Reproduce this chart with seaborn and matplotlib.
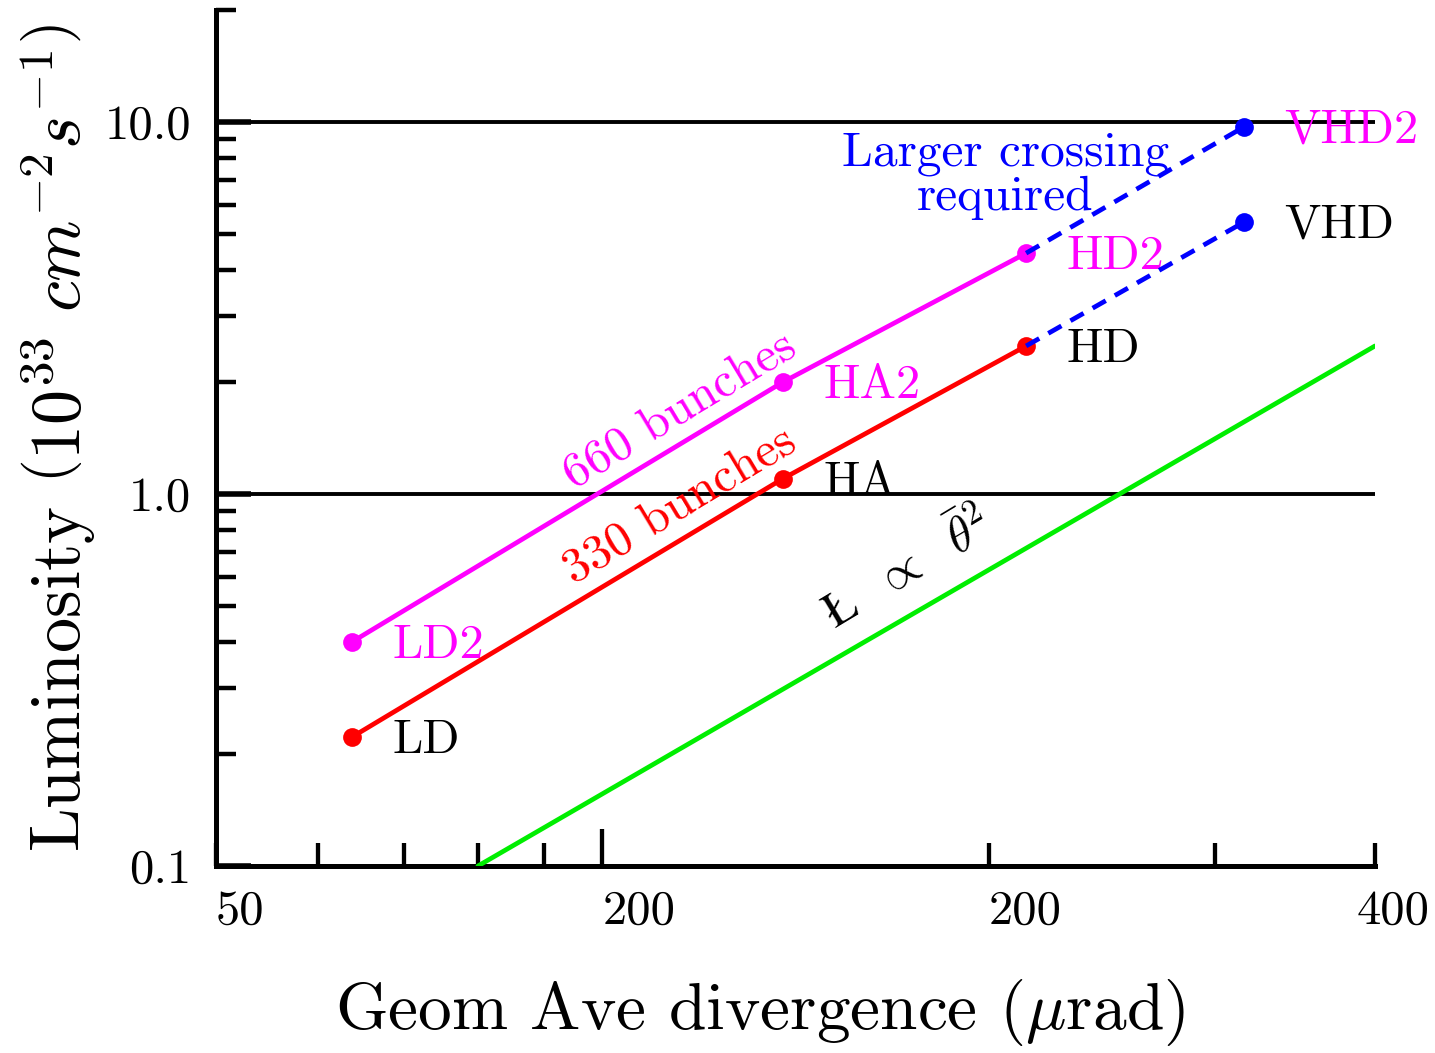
import matplotlib
matplotlib.use("Agg")
import matplotlib.pyplot as plt
import matplotlib.transforms as mtransforms
from matplotlib.ticker import NullFormatter, FixedLocator
import pandas as pd
import seaborn as sns

# ---------------- data ----------------
labels_660 = ["LD2", "HA2", "HD2"]
div_660 = [63.8, 138.3, 213.9]
lum_660 = [0.40, 2.0, 4.44]

labels_330 = ["LD", "HA", "HD"]
div_330 = [63.8, 138.3, 213.9]
lum_330 = [0.222, 1.10, 2.50]

labels_vhd = ["VHD2", "VHD"]
div_vhd = [316.2, 316.2]
lum_vhd = [9.70, 5.38]
vhd_label_colors = ["#FF00FF", "black"]

scaling_div = [80, 400]
scaling_lum = [0.1, 2.5]

x_ticks = [50, 100, 200, 400]
x_ticklabels = ["50", "200", "200", "400"]
x_minor = [60, 70, 80, 90, 300]
y_ticks = [0.1, 1.0, 10.0]
y_ticklabels = ["0.1", "1.0", "10.0"]

MAG = "#FF00FF"
RED = "#FF0000"
BLUE = "#0000FF"
GREEN = "#00EE00"

# ---------------- style ----------------
sns.set_theme(style="ticks")
plt.rcParams.update({
    "font.family": ["cmr10", "DejaVu Serif"],
    "mathtext.fontset": "cm",
    "axes.unicode_minus": False,
    "axes.formatter.use_mathtext": True,
    "axes.edgecolor": "black",
    "axes.labelcolor": "black",
    "xtick.color": "black",
    "ytick.color": "black",
    "text.color": "black",
})

fig = plt.figure(figsize=(14.35, 10.53), dpi=100)
ax = fig.add_axes([0.1505, 0.1776, 0.8077, 0.8129])
ax.set_xscale("log")
ax.set_yscale("log")

LW = 3.4
MS = 13.5

df660 = pd.DataFrame({"div": div_660, "lum": lum_660})
df330 = pd.DataFrame({"div": div_330, "lum": lum_330})
dfs = pd.DataFrame({"div": scaling_div, "lum": scaling_lum})

sns.lineplot(data=dfs, x="div", y="lum", ax=ax, color=GREEN, linewidth=LW, zorder=3)
sns.lineplot(data=df660, x="div", y="lum", ax=ax, color=MAG, linewidth=LW,
             marker="o", markersize=MS, markeredgewidth=0, zorder=4)
sns.lineplot(data=df330, x="div", y="lum", ax=ax, color=RED, linewidth=LW,
             marker="o", markersize=MS, markeredgewidth=0, zorder=4)

# dashed extensions to the VHD points
for xs, ys in [([div_660[-1], div_vhd[0]], [lum_660[-1], lum_vhd[0]]),
               ([div_330[-1], div_vhd[1]], [lum_330[-1], lum_vhd[1]])]:
    sns.lineplot(x=xs, y=ys, ax=ax, color=BLUE, linewidth=LW, zorder=5)
    ax.lines[-1].set_dashes([3.2, 2.2])
sns.scatterplot(x=div_vhd, y=lum_vhd, ax=ax, color=BLUE, s=MS**2, linewidth=0, zorder=6)

# ---------------- axes ----------------
ax.set_xlim(50, 400)
ax.set_ylim(0.1, 20)
ax.xaxis.set_major_locator(FixedLocator(x_ticks))
ax.set_xticklabels(x_ticklabels)
ax.xaxis.set_minor_locator(FixedLocator(x_minor))
ax.xaxis.set_minor_formatter(NullFormatter())
ax.yaxis.set_major_locator(FixedLocator(y_ticks))
ax.set_yticklabels(y_ticklabels)
ax.yaxis.set_minor_formatter(NullFormatter())

for s in ["top", "right"]:
    ax.spines[s].set_visible(False)
for s in ["left", "bottom"]:
    ax.spines[s].set_linewidth(3.6)
    ax.spines[s].set_color("black")

ax.tick_params(axis="both", which="both", direction="in", colors="black")
ax.tick_params(axis="y", which="major", length=25, width=4, pad=18, labelsize=35)
ax.tick_params(axis="y", which="minor", length=14.5, width=3.2)
ax.tick_params(axis="x", which="major", length=16.5, width=3.1, pad=17, labelsize=35)
ax.tick_params(axis="x", which="minor", length=16.5, width=3.1)
for t, v in zip(ax.xaxis.get_major_ticks(), x_ticks):
    if v == 100:
        t.tick1line.set_markersize(27)

x_label_shift_pt = {50: 0, 100: 0, 200: 0, 400: -13}
for lab, v in zip(ax.get_xticklabels(), x_ticks):
    lab.set_horizontalalignment("left")
    lab.set_transform(lab.get_transform() + mtransforms.ScaledTranslation(
        x_label_shift_pt[v] / 72, 0, fig.dpi_scale_trans))

ax.yaxis.grid(True, which="major", color="black", linewidth=2.8)
ax.xaxis.grid(False)
ax.set_axisbelow(True)

ax.set_xlabel(r"Geom Ave divergence ($\mu$rad)", fontsize=48.5, va="center")
ax.xaxis.set_label_coords(0.469, -0.171)
ax.set_ylabel(r"Luminosity $\left(10^{33}\ cm^{-2}s^{-1}\right)$", fontsize=50.5, va="center")
ax.yaxis.set_label_coords(-0.136, 0.5)

# ---------------- point labels ----------------
FS = 35
OFF = (29, -11.5)
for lab, x, y in zip(labels_660, div_660, lum_660):
    ax.annotate(lab, (x, y), xytext=OFF, textcoords="offset points",
                ha="left", va="baseline", fontsize=FS, color=MAG)
for lab, x, y in zip(labels_330, div_330, lum_330):
    ax.annotate(lab, (x, y), xytext=OFF, textcoords="offset points",
                ha="left", va="baseline", fontsize=FS, color="black")
for lab, x, y, c in zip(labels_vhd, div_vhd, lum_vhd, vhd_label_colors):
    ax.annotate(lab, (x, y), xytext=OFF, textcoords="offset points",
                ha="left", va="baseline", fontsize=FS, color=c)

ax.text(114.9, 1.671, "660 bunches", rotation=31, rotation_mode="anchor",
        ha="center", va="center", fontsize=35.5, color=MAG)
ax.text(114.9, 0.928, "330 bunches", rotation=31, rotation_mode="anchor",
        ha="center", va="center", fontsize=35.5, color=RED)
ax.text(173, 0.63, r"$\mathrm{\L}\ \ \propto\ \ \bar{\theta}^2$", rotation=31,
        rotation_mode="anchor", ha="center", va="center", fontsize=35.5, color="black")
ax.text(206, 7.16, "Larger crossing\nrequired", ha="center", va="center",
        multialignment="center", fontsize=35.5, color=BLUE, linespacing=1.0)

fig.savefig("out.png", dpi=100)
